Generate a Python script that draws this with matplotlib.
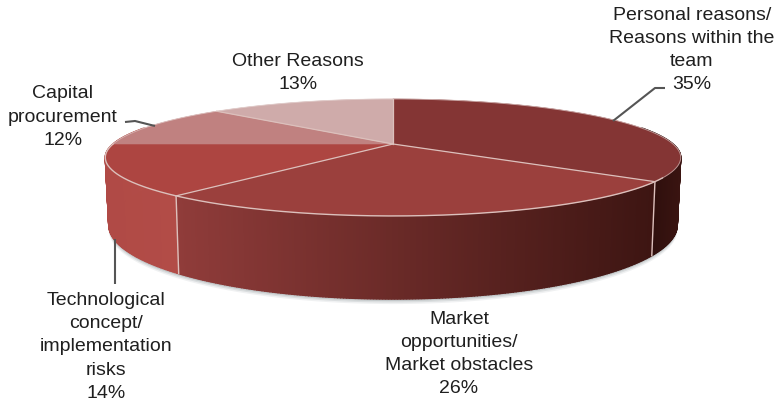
import numpy as np
import matplotlib
matplotlib.use("Agg")
import matplotlib.pyplot as plt
from matplotlib.colors import to_rgb

plt.rcParams['font.family'] = ['Liberation Sans', 'DejaVu Sans']

# slices run clockwise from twelve o'clock
shares = [35, 26, 14, 12, 13]
top_colors = ['#843534', '#9b403d', '#ad4541', '#c08180', '#cfabaa']
side_left = ['#2a0d0b', '#903c3a', '#b04a46', '#b04a46', '#b04a46']
side_right = ['#3a1411', '#3d1512', '#b24c47', '#b24c47', '#b24c47']

labels = ['Personal reasons/\nReasons within the\nteam\n35%',
          'Market\nopportunities/\nMarket obstacles\n26%',
          'Technological\nconcept/\nimplementation\nrisks\n14%',
          'Capital\nprocurement\n12%',
          'Other Reasons\n13%']
label_pos = [(692, 50), (459, 354), (106, 347), (63, 117), (298, 73)]

leaders = [([613, 655, 665], [122, 89, 89]),
           ([125, 135, 155], [123, 122, 127]),
           ([115, 115], [240, 285])]

# perspective disc
cx, cy = 393, 145
rx, ry = 280, 55.4
persp = 0.23
depth = 64
seam = '#dcc0bc'


def rim(angle, drop=0.0):
    u = np.sin(angle)
    v = -np.cos(angle)
    s = 1 / (1 - persp * v)
    shrink = 1 - 0.012 * (drop > 0)
    return cx + rx * u * s * shrink, cy + ry * v * s + drop * s


def arc(a0, a1):
    n = max(int(abs(a1 - a0) * 120), 2)
    return np.linspace(a0, a1, n)


fig = plt.figure(figsize=(7.78, 4.02), dpi=100)
ax = fig.add_axes([0, 0, 1, 1])
ax.set_xlim(0, 778)
ax.set_ylim(402, 0)
ax.axis('off')

edges = np.cumsum([0] + shares) / sum(shares) * 2 * np.pi

# soft shadow under the front rim
all_angles = arc(np.pi * 0.42, np.pi * 1.58)
for off, alpha in [(5, 0.10), (3.5, 0.16), (2, 0.22)]:
    bx, by = rim(all_angles, depth)
    ax.fill(bx, by + off, color='#6f7d80', alpha=alpha, lw=0, zorder=1)

# side wall, drawn as thin strips so the shade can change along the rim
for i in range(len(shares)):
    a0 = max(edges[i], np.pi * 0.40)
    a1 = min(edges[i + 1], np.pi * 1.60)
    if a1 <= a0:
        continue
    steps = arc(a0, a1)
    xs, _ = rim(steps)
    x0, x1 = xs.min(), xs.max()
    c0 = np.array(to_rgb(side_left[i]))
    c1 = np.array(to_rgb(side_right[i]))
    for a, b in zip(steps[:-1], steps[1:]):
        xa, ya = rim(np.array([a, b]))
        xb, yb = rim(np.array([b, a]), depth)
        t = (xa.mean() - x0) / max(x1 - x0, 1)
        col = c0 + (c1 - c0) * t
        ax.fill(np.r_[xa, xb], np.r_[ya, yb], color=col, ec=col, lw=1.0, zorder=2)

# seams on the wall
for e in (edges[1], edges[2]):
    xa, ya = rim(e)
    xb, yb = rim(e, depth)
    ax.plot([xa, xb], [ya, yb], color=seam, lw=1.0, zorder=3)

# top face
for i in range(len(shares)):
    px, py = rim(arc(edges[i], edges[i + 1]))
    ax.fill(np.r_[cx, px], np.r_[cy, py], color=top_colors[i], ec=top_colors[i], lw=0.4, zorder=4)

# light line along the front of the top face and between slices
px, py = rim(arc(edges[1] - 0.06, edges[3]))
ax.plot(px, py, color=seam, lw=1.0, zorder=5)
px, py = rim(arc(edges[3], edges[5] + 2 * np.pi * 0.34))
ax.plot(px, py, color='#e6d6d4', lw=0.7, alpha=0.6, zorder=5)
for k in (1, 2, 4, 5):
    xa, ya = rim(edges[k])
    ax.plot([cx, xa], [cy, ya], color='#dcc0bc', lw=0.9, zorder=5)

for lx, ly in leaders:
    ax.plot(lx, ly, color='#555555', lw=1.5, zorder=6, solid_capstyle='butt')

for txt, (tx, ty) in zip(labels, label_pos):
    ax.text(tx, ty, txt, ha='center', va='center', fontsize=14, color='#1f1f1f',
            linespacing=1.48, zorder=7)

fig.savefig('out.png', dpi=100)
